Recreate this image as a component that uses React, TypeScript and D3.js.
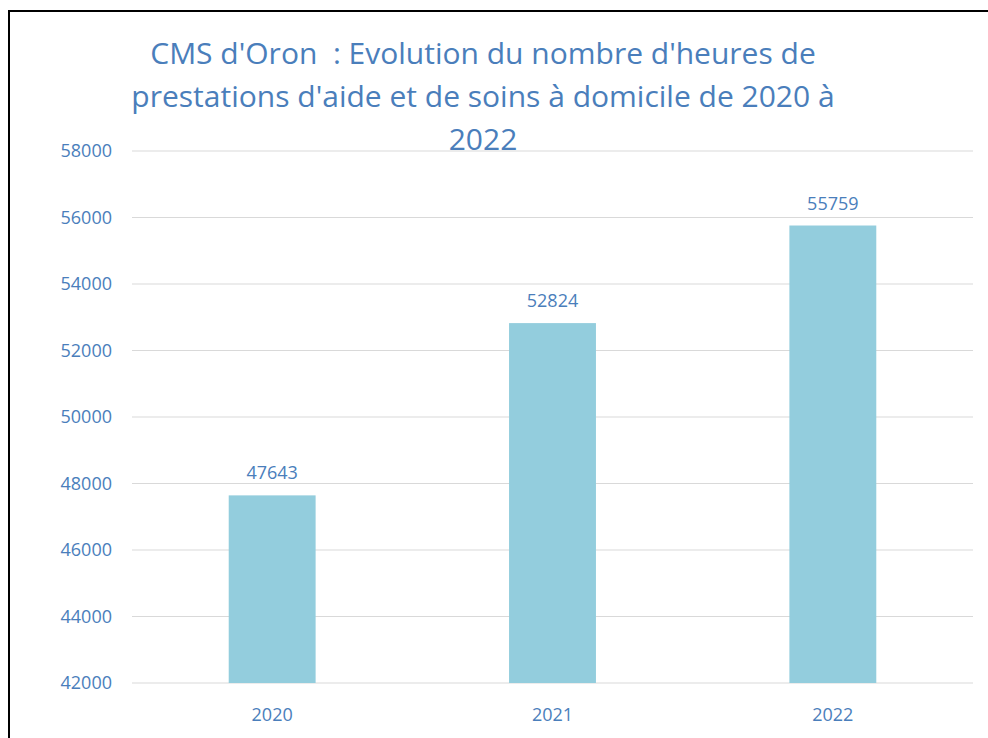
import React from "react";
import * as d3 from "d3";

const years: string[] = ["2020", "2021", "2022"];
const hours: number[] = [47643, 52824, 55759];
const yTicks: number[] = [42000, 44000, 46000, 48000, 50000, 52000, 54000, 56000, 58000];
const titleLines: string[] = [
  "CMS d'Oron  : Evolution du nombre d'heures de",
  "prestations d'aide et de soins à domicile de 2020 à",
  "2022",
];

const W = 988;
const H = 738;
const BLUE = "#4a7ebb";
const BAR = "#93cddd";
const FONT = "'Open Sans', 'Noto Sans', sans-serif";

export default function App() {
  const plot = { left: 132, right: 973, top: 151, bottom: 683 };
  const x = d3
    .scaleBand<string>()
    .domain(years)
    .range([plot.left, plot.right])
    .paddingInner(0.69)
    .paddingOuter(0.345);
  const y = d3.scaleLinear().domain([42000, 58000]).range([plot.bottom, plot.top]);

  return (
    <div style={{ position: "absolute", left: 0, top: 0, width: W, height: H, overflow: "hidden" }}>
      <svg width={W} height={H} style={{ display: "block", background: "#fff" }}>
        <rect x={0} y={0} width={W} height={H} fill="#fff" />
        <rect x={9} y={11} width={W + 20} height={H + 20} fill="none" stroke="#000" strokeWidth={2} />
        {yTicks.map((t) => (
          <g key={t}>
            <line x1={plot.left} x2={plot.right} y1={y(t)} y2={y(t)} stroke="#d9d9d9" strokeWidth={1} />
            <text
              x={112}
              y={y(t)}
              dy="0.36em"
              textAnchor="end"
              fill={BLUE}
              fontFamily={FONT}
              fontSize={18}
            >
              {t}
            </text>
          </g>
        ))}
        {years.map((yr, i) => (
          <g key={yr}>
            <rect
              x={x(yr)!}
              y={y(hours[i])}
              width={x.bandwidth()}
              height={y(42000) - y(hours[i])}
              fill={BAR}
            />
            <text
              x={x(yr)! + x.bandwidth() / 2}
              y={y(hours[i]) - 16}
              textAnchor="middle"
              fill={BLUE}
              fontFamily={FONT}
              fontSize={18}
            >
              {hours[i]}
            </text>
            <text
              x={x(yr)! + x.bandwidth() / 2}
              y={721}
              textAnchor="middle"
              fill={BLUE}
              fontFamily={FONT}
              fontSize={18}
            >
              {yr}
            </text>
          </g>
        ))}
        {titleLines.map((l, i) => (
          <text
            key={i}
            x={483}
            y={64 + i * 43}
            textAnchor="middle"
            fill={BLUE}
            fontFamily={FONT}
            fontSize={30}
            style={{ whiteSpace: "pre" }}
          >
            {l}
          </text>
        ))}
      </svg>
    </div>
  );
}
